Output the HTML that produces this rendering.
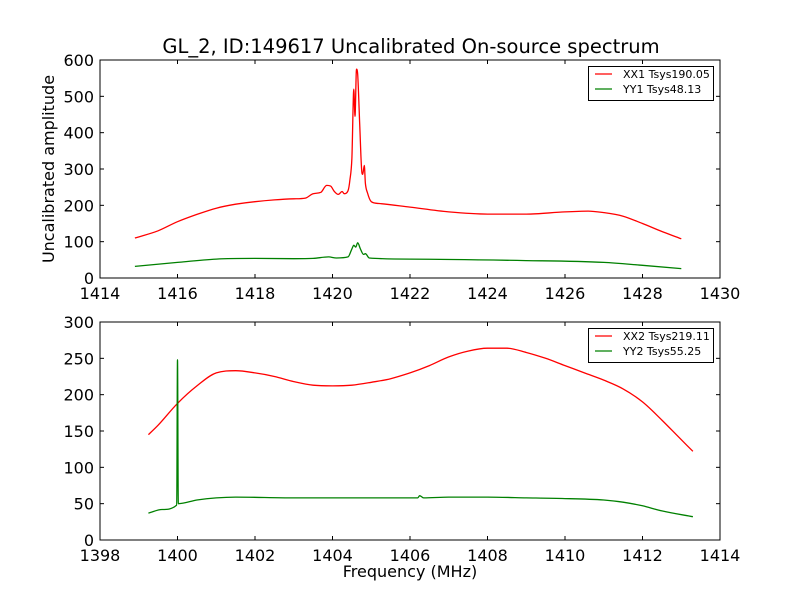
<!DOCTYPE html>
<html><head><meta charset="utf-8"><style>
body{margin:0;background:#fff}
svg{font-family:"DejaVu Sans","Liberation Sans",sans-serif}
</style></head><body>
<svg id="chart" width="800" height="600" xmlns="http://www.w3.org/2000/svg">
<rect width="800" height="600" fill="#fff"/>
<text x="411" y="53" font-size="19.5" text-anchor="middle">GL_2, ID:149617 Uncalibrated On-source spectrum</text>
<text transform="translate(54,169) rotate(-90)" font-size="16" text-anchor="middle">Uncalibrated amplitude</text>
<text x="410" y="577" font-size="16" text-anchor="middle">Frequency (MHz)</text>
<g id="top"></g>
<g id="bot"></g>
</svg>
<script>
const topXX1Freq=[1414.9,1415.5,1416,1416.5,1417,1417.5,1418,1418.5,1419,1419.3,1419.5,1419.7,1419.85,1419.95,1420.05,1420.15,1420.25,1420.3,1420.4,1420.45,1420.5,1420.55,1420.58,1420.62,1420.65,1420.7,1420.75,1420.78,1420.82,1420.85,1420.9,1421,1421.2,1422,1423,1424,1425,1426,1426.6,1427,1427.5,1428,1428.5,1429];
const topXX1Val=[110,130,155,175,192,203,210,215,218,220,232,236,255,253,238,230,238,232,240,270,330,520,445,575,560,430,300,285,310,260,235,210,205,195,182,176,176,182,184,180,170,150,128,108];
const topYY1Freq=[1414.9,1416,1417,1418,1419,1419.5,1419.9,1420.1,1420.4,1420.5,1420.55,1420.6,1420.65,1420.72,1420.8,1420.85,1420.95,1422,1425,1427,1428,1429];
const topYY1Val=[32,43,52,54,53,54,58,55,58,80,90,85,97,80,65,67,55,52,48,43,35,26];
const botXX2Freq=[1399.25,1399.5,1400,1400.5,1401,1401.5,1402,1402.5,1403,1403.5,1404,1404.5,1405,1405.5,1406,1406.5,1407,1407.5,1408,1408.5,1409,1409.5,1410,1410.5,1411,1411.5,1412,1412.5,1413,1413.3];
const botXX2Val=[145,158,188,212,230,233,230,225,218,213,212,213,217,222,230,240,252,260,264,264,258,250,240,230,220,208,190,165,138,122];
const botYY2Freq=[1399.25,1399.6,1399.98,1400.0,1400.02,1400.5,1401,1401.5,1403,1405,1406.2,1406.25,1406.35,1407,1408,1409,1410,1411,1411.5,1412,1412.5,1413.3];
const botYY2Val=[37,42,48,248,50,55,58,59,58,58,58,61,58,59,59,58,57,55,52,47,40,32];
const topXTicks=[1414,1416,1418,1420,1422,1424,1426,1428,1430];
const topYTicks=[0,100,200,300,400,500,600];
const botXTicks=[1398,1400,1402,1404,1406,1408,1410,1412,1414];
const botYTicks=[0,50,100,150,200,250,300];
const topLegend=["XX1 Tsys190.05","YY1 Tsys48.13"];
const botLegend=["XX2 Tsys219.11","YY2 Tsys55.25"];

const NS="http://www.w3.org/2000/svg";
function mk(p,t,a){const e=document.createElementNS(NS,t);for(const k in a)e.setAttribute(k,a[k]);p.appendChild(e);return e;}
// monotone cubic path (no overshoot)
function monoPath(X,Y){
  const n=X.length;if(n<2)return '';
  const d=[],m=new Array(n);
  for(let i=0;i<n-1;i++)d.push((Y[i+1]-Y[i])/(X[i+1]-X[i]));
  m[0]=d[0];m[n-1]=d[n-2];
  for(let i=1;i<n-1;i++){m[i]=(d[i-1]*d[i]<=0)?0:(d[i-1]+d[i])/2;}
  for(let i=0;i<n-1;i++){if(d[i]===0){m[i]=0;m[i+1]=0;continue;}
    const a=m[i]/d[i],b=m[i+1]/d[i],s=a*a+b*b;
    if(s>9){const t=3/Math.sqrt(s);m[i]=t*a*d[i];m[i+1]=t*b*d[i];}}
  let p='M'+X[0].toFixed(1)+','+Y[0].toFixed(1);
  for(let i=0;i<n-1;i++){const h=(X[i+1]-X[i])/3;
    p+='C'+(X[i]+h).toFixed(1)+','+(Y[i]+m[i]*h).toFixed(1)+' '+(X[i+1]-h).toFixed(1)+','+(Y[i+1]-m[i+1]*h).toFixed(1)+' '+X[i+1].toFixed(1)+','+Y[i+1].toFixed(1);}
  return p;
}
function panel(g,top,bottom,x0,x1,y0,y1,xt,yt,series,leg){
  const L=100,R=720;
  const sx=v=>L+(v-x0)/(x1-x0)*(R-L);
  const sy=v=>bottom-(v-y0)/(y1-y0)*(bottom-top);
  series.forEach((s,i)=>{
    const d=monoPath(s.f.map(sx),s.v.map(sy));
    const p=mk(g,'path',{d:d,fill:'none',stroke:s.c,'stroke-width':1.3,'stroke-linejoin':'round'});
    
    
  });
  const fr=mk(g,'rect',{x:L,y:top,width:R-L,height:bottom-top,fill:'none',stroke:'#000','stroke-width':1});
  
  
  xt.forEach(v=>{const x=sx(v);
    mk(g,'line',{x1:x,x2:x,y1:bottom,y2:bottom-4,stroke:'#000'});
    mk(g,'line',{x1:x,x2:x,y1:top,y2:top+4,stroke:'#000'});
    const t=mk(g,'text',{x:x,y:bottom+21,'font-size':16,'text-anchor':'middle'});t.textContent=v;
    
    });
  yt.forEach(v=>{const y=sy(v);
    mk(g,'line',{x1:L,x2:L+4,y1:y,y2:y,stroke:'#000'});
    mk(g,'line',{x1:R,x2:R-4,y1:y,y2:y,stroke:'#000'});
    const t=mk(g,'text',{x:L-6,y:y+6,'font-size':16,'text-anchor':'end'});t.textContent=v;
    
    });
  const lg=mk(g,'g',{});
  
  
  mk(lg,'rect',{x:588.5,y:top+6.5,width:125,height:34,fill:'#fff',stroke:'#000'});
  leg.forEach((s,i)=>{const y=top+14+i*15;
    mk(lg,'line',{x1:595,x2:612,y1:y,y2:y,stroke:series[i].c,'stroke-width':1.3});
    const t=mk(lg,'text',{x:623,y:y+4,'font-size':11});t.textContent=s;
    
    });
}
panel(document.getElementById('top'),60,278,1414,1430,0,600,topXTicks,topYTicks,
 [{f:topXX1Freq,v:topXX1Val,c:'#ff0000',n:'xx1-line'},{f:topYY1Freq,v:topYY1Val,c:'#008000',n:'yy1-line'}],topLegend);
panel(document.getElementById('bot'),322,540,1398,1414,0,300,botXTicks,botYTicks,
 [{f:botXX2Freq,v:botXX2Val,c:'#ff0000',n:'xx2-line'},{f:botYY2Freq,v:botYY2Val,c:'#008000',n:'yy2-line'}],botLegend);
</script>
</body></html>
